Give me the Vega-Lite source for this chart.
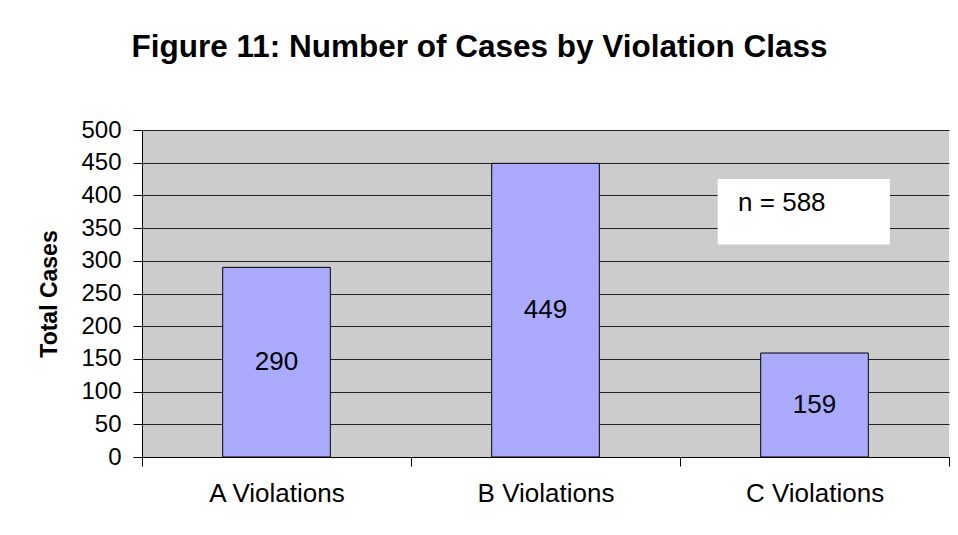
{
  "$schema": "https://vega.github.io/schema/vega-lite/v6.json",
  "width": 807,
  "height": 327,
  "autosize": "none",
  "padding": {"left": 142, "top": 130, "right": 9, "bottom": 78},
  "background": "white",
  "config": {
    "font": "Liberation Sans",
    "view": {"fill": "#cccccc", "stroke": null}
  },
  "title": {
    "text": "Figure 11: Number of Cases by Violation Class",
    "fontSize": 31.5,
    "fontWeight": "bold",
    "color": "black",
    "anchor": "middle",
    "frame": "group",
    "dx": -66,
    "offset": 55
  },
  "data": {
    "values": [
      {"violation": "A Violations", "cases": 290},
      {"violation": "B Violations", "cases": 449},
      {"violation": "C Violations", "cases": 159}
    ]
  },
  "layer": [
    {
      "mark": {"type": "bar", "width": {"band": 0.4}, "fill": "#aaaaff", "stroke": "black", "strokeWidth": 1},
      "encoding": {
        "x": {
          "field": "violation", "type": "nominal", "sort": null,
          "scale": {"paddingInner": 0, "paddingOuter": 0},
          "axis": {
            "title": null, "labelAngle": 0, "tickBand": "extent", "grid": false,
            "domainColor": "black", "tickColor": "black", "tickSize": 9,
            "labelPadding": 14, "labelFontSize": 26, "labelColor": "black"
          }
        },
        "y": {
          "field": "cases", "type": "quantitative",
          "scale": {"domain": [0, 500]},
          "axis": {
            "title": "Total Cases", "titleFontSize": 23, "titleFontWeight": "bold", "titleColor": "black",
            "titlePadding": 19,
            "values": [0, 50, 100, 150, 200, 250, 300, 350, 400, 450, 500],
            "grid": true, "gridColor": "#222222", "gridOpacity": 1,
            "domainColor": "black", "tickColor": "black", "tickSize": 9,
            "labelPadding": 12, "labelFontSize": 24, "labelColor": "black"
          }
        }
      }
    },
    {
      "mark": {"type": "text", "fontSize": 26, "color": "black", "baseline": "middle"},
      "encoding": {
        "x": {"field": "violation", "type": "nominal", "sort": null, "scale": {"paddingInner": 0, "paddingOuter": 0}, "axis": null},
        "y": {"field": "cases", "type": "quantitative", "scale": {"domain": [0, 1000]}, "axis": null},
        "text": {"field": "cases"}
      }
    },
    {
      "data": {"values": [{"label": "n = 588"}]},
      "mark": {"type": "rect", "fill": "white"},
      "encoding": {
        "x": {"datum": 2.14, "type": "quantitative", "scale": {"domain": [0, 3]}, "axis": null},
        "x2": {"datum": 2.78},
        "y": {"datum": 325, "type": "quantitative", "scale": {"domain": [0, 500]}, "axis": null},
        "y2": {"datum": 425}
      }
    },
    {
      "data": {"values": [{"label": "n = 588"}]},
      "mark": {"type": "text", "fontSize": 26, "color": "black", "align": "left", "baseline": "middle"},
      "encoding": {
        "x": {"datum": 2.216, "type": "quantitative", "scale": {"domain": [0, 3]}, "axis": null},
        "y": {"datum": 388, "type": "quantitative", "scale": {"domain": [0, 500]}, "axis": null},
        "text": {"field": "label"}
      }
    }
  ],
  "resolve": {"scale": {"x": "independent", "y": "independent"}}
}
